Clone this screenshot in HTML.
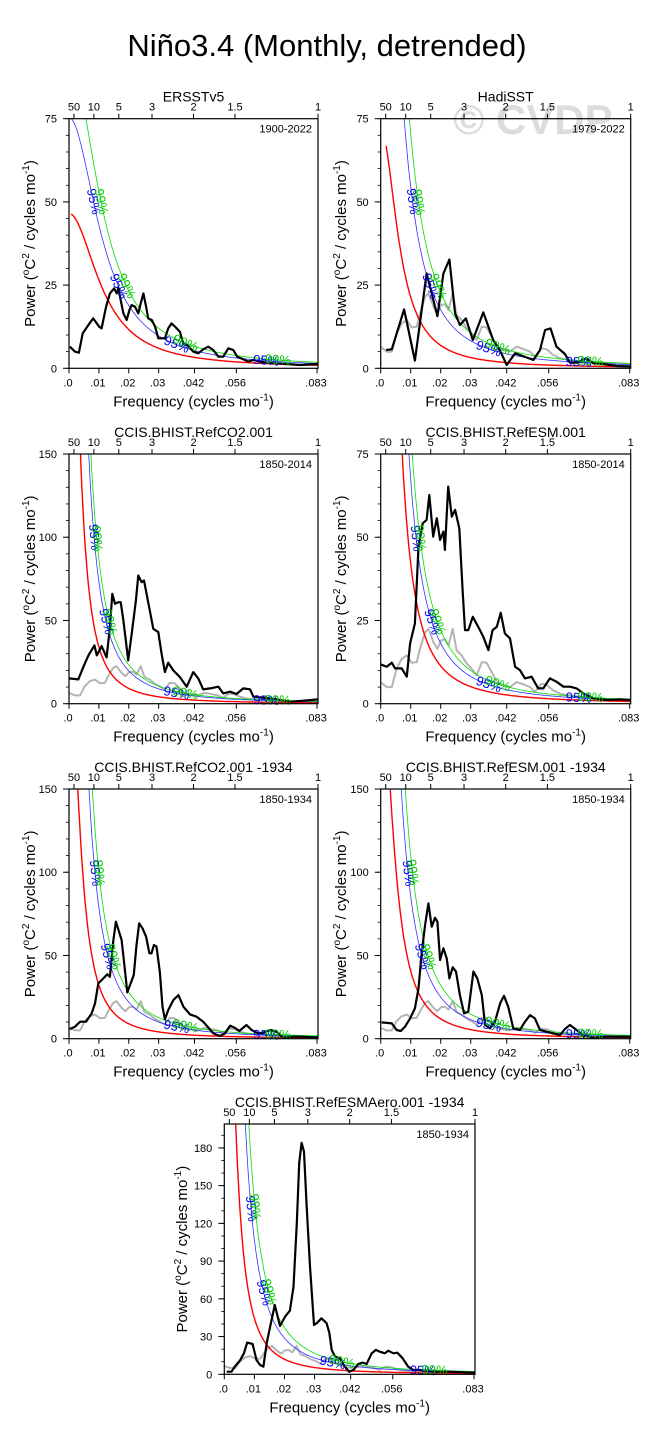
<!DOCTYPE html>
<html><head><meta charset="utf-8">
<style>
html,body{margin:0;padding:0;background:#fff;}
svg{display:block;font-family:"Liberation Sans",sans-serif;}
</style></head>
<body>
<svg id="chart" width="655" height="1444" viewBox="0 0 655 1444" xmlns="http://www.w3.org/2000/svg">
<rect x="0" y="0" width="655" height="1444" fill="#fff"/>
<text x="327" y="56" text-anchor="middle" font-size="31" fill="#000">Niño3.4 (Monthly, detrended)</text>
<text x="533" y="134" text-anchor="middle" font-size="42" font-weight="bold" fill="#dcdcdc">© CVDP</text>
<g id="panels"></g>
</svg>
<script>
// ---------- data ----------
const freqTicks = [0, 0.01, 0.02, 0.03, 0.042, 0.056, 0.083];
const freqTickLabels = [".0", ".01", ".02", ".03", ".042", ".056", ".083"];
const periodTicks = [50, 10, 5, 3, 2, 1.5, 1];
const periodTickLabels = ["50", "10", "5", "3", "2", "1.5", "1"];

const obsFreq = [0,.002,.0037,.0053,.007,.0087,.0103,.012,.0131,.0148,.0159,.0176,.0189,.0201,.0214,.0226,.024,.0253,.027,.0287,.0303,.032,.0337,.0353,.037,.0387,.0409,.0431,.0453,.047,.0498,.0514,.0536,.0553,.0575,.0598,.0631,.0675,.072,.0775,.0833];
const obsPower = [6.5,5,5,10.5,13.5,14.5,12.3,12.5,16.5,21.5,22.5,18.5,16.5,19,19.3,17.5,22.5,16,14.5,12,10.5,8.5,12.5,12.3,9.5,6.5,5.5,5,6.5,6,5,3.5,6,5.7,4,3,2.5,2,1.5,1.3,1];

const p1Freq = [.0003,.002,.0033,.0046,.0061,.0081,.0093,.0101,.0109,.0117,.0124,.0137,.0151,.0160,.0165,.0182,.0193,.0202,.021,.0221,.0232,.024,.0249,.0258,.0265,.0277,.0288,.0299,.0307,.0321,.0332,.0343,.0355,.0371,.0382,.0399,.0416,.0433,.0449,.0466,.0483,.05,.0516,.0533,.055,.0563,.0583,.06,.0617,.0639,.0661,.0695,.0728,.0773,.0833];
const p1Power = [6.5,5,4.7,10.5,12.5,15,13.5,12.5,12,15.5,18.5,22.5,24,22.5,24,16.5,14.5,17.5,19,18.5,16.5,19.5,22.5,18.5,15,14.5,12.5,9,9,9,12,13.5,12.5,11,7.5,6.7,5,4.5,5.7,6.5,5.5,3.5,3.5,6,5.5,3.5,2.7,2,2.5,2,1.7,1.5,1.3,1,1.3];

const p2Freq = [.0018,.0037,.0078,.0114,.0153,.017,.0189,.0209,.0229,.0248,.0264,.0284,.0307,.0342,.0375,.0398,.042,.0448,.0464,.0509,.0531,.0548,.0566,.0586,.0614,.0631,.0659,.0684,.0709,.0742,.0786,.0833];
const p2Power = [5.5,5.7,17.7,2.3,28.5,22.5,15.7,28.5,32.7,16.5,13,15,8.5,16.8,8.5,5.3,1,4.5,4,2.5,5.5,11.5,12,6.5,4.3,1.7,1.7,3,1.5,1.3,0.7,0.5];

const p3Freq = [0,.0031,.0048,.0065,.0085,.0093,.0109,.0126,.0137,.0145,.0154,.0165,.0173,.0182,.0198,.021,.0224,.0232,.0243,.0251,.0265,.0282,.0299,.031,.0321,.0332,.0349,.0371,.0394,.0416,.0433,.0449,.0472,.05,.0516,.0539,.0561,.0583,.0606,.0617,.065,.0695,.0739,.0784,.0833];
const p3Power = [15.2,14.6,22,29,35,29,34.6,27.8,46,66,60,61,61,50,26,42,62,77,73,74,61,45,43,30,19,24.6,20,16,10.2,19,15,8.6,9.2,10.2,6.2,7.2,5.8,9.2,8.6,4.2,3.6,2.6,1.2,1.8,2.6];

const p4Freq = [0,.002,.0037,.0048,.007,.0087,.0098,.0114,.0126,.014,.0153,.0162,.0175,.0187,.0198,.0209,.0214,.0225,.0237,.0248,.0262,.0273,.0281,.0292,.0307,.0325,.0342,.0359,.0373,.0387,.04,.0414,.0431,.0448,.0464,.0481,.0503,.0525,.0542,.0564,.0586,.0609,.0631,.0653,.0675,.0709,.0753,.0798,.0833];
const p4Power = [11.8,11.1,12.3,10.6,10.6,8.1,18.1,24.1,47.2,54.2,55.2,62.7,50.2,55.7,49.2,51.7,46.2,65.2,56.2,58.2,52.7,34.1,22.1,22.1,26.1,23.1,20.1,16.1,22.1,23.1,27.3,21.1,19.6,11.1,10.1,7.6,8.1,4.6,4.6,7.6,6.6,5.1,5.1,4.6,3.1,1.6,1.1,1.3,1.1];

const p5Freq = [.0003,.002,.0037,.0057,.0076,.0087,.0098,.0115,.0128,.0137,.0148,.0157,.0176,.0184,.0195,.0204,.0217,.0226,.0235,.0246,.0258,.0269,.0276,.0284,.0293,.0304,.0313,.0321,.0332,.0349,.0366,.0383,.0405,.0427,.0449,.0483,.0505,.0522,.0539,.0555,.057,.0594,.0611,.0634,.065,.0673,.0695,.0717,.0751,.0784,.0833];
const p5Power = [5.8,7.2,10.2,10.2,15.2,21.2,33.2,36.2,38.7,37.2,58.3,70.3,59.3,46.3,27.8,32.2,38.3,56.3,69.3,66.3,61.3,51.3,51.3,56.3,55.3,40.3,19.2,11.6,17.2,23.2,26.2,19.2,14.6,13.2,10.2,3.2,1.6,3.2,7.8,6.6,4.6,8.2,5.2,3.2,3.6,5.2,4.2,0.6,1.2,1.2,0.6];

const p6Freq = [.0003,.0037,.0053,.0067,.0081,.0098,.0114,.0126,.0137,.0148,.0159,.017,.0181,.0189,.0198,.0209,.022,.0229,.024,.0251,.0264,.0278,.0292,.0309,.0322,.0337,.0348,.0364,.0381,.0398,.0411,.0425,.0442,.0464,.0481,.0498,.0514,.0531,.0553,.0575,.0598,.0614,.0631,.0653,.0675,.0709,.0753,.0798,.0833];
const p6Power = [9.8,9.2,5.2,4.6,7.2,12.2,18.2,30.2,52.3,68.3,81.3,67.3,72.7,70.3,47.3,54.3,48.3,36.2,42.9,40.3,26.2,15.2,16.2,40.3,36.2,26.2,8.2,6.2,10.2,21.2,25.8,19.2,6.2,5.2,10.2,14.2,12.2,5.2,4.2,3.2,2.2,5.8,8.2,5.2,1.8,0.6,1.2,1.2,1.2];

const p7Freq = [.0008,.0024,.0035,.0052,.0065,.0076,.0094,.0107,.0119,.013,.0141,.0152,.0168,.0185,.0202,.0218,.023,.0241,.0249,.0257,.0265,.0274,.0285,.0298,.0307,.0323,.034,.0349,.0357,.0368,.0384,.0401,.0415,.0429,.0445,.046,.0473,.049,.0504,.0517,.0534,.0545,.0562,.0575,.0593,.0611,.0628,.065,.0672,.0706,.075,.0833];
const p7Power = [2.1,2.1,6.1,10.9,16.7,25.2,24.1,11.4,7.4,6.1,24.7,37.4,55.1,38.4,45.9,50.6,69.7,120,168,184,177,133,85.6,39.2,40.6,44.5,40.6,33.1,19.4,14.1,12.7,6.1,2.1,3.4,8.2,9.3,8.2,16.7,19.4,18,16.7,18.8,16.7,17.2,12.7,6.1,3.4,3.4,2.7,2.1,2.1,1.3];

const panelTitles = ["ERSSTv5","HadiSST","CCIS.BHIST.RefCO2.001","CCIS.BHIST.RefESM.001","CCIS.BHIST.RefCO2.001 -1934","CCIS.BHIST.RefESM.001 -1934","CCIS.BHIST.RefESMAero.001 -1934"];
const panelYears = ["1900-2022","1979-2022","1850-2014","1850-2014","1850-1934","1850-1934","1850-1934"];
const redR = [0.93, 0.96, 0.98, 0.98, 0.975, 0.97, 0.98];
const red0 = [46.5, 72, 364, 449, 230, 214, 475];
const sig95 = [1.62, 2.55, 2.15, 1.6, 2.45, 2.1, 2.4];
const sig99 = [2.0, 3.3, 2.55, 1.95, 3.1, 2.7, 3.1];
const redStart = [0.0007, 0.0018, 0.0005, 0.0005, 0.0005, 0.0005, 0.0005];
const yMax = [75, 75, 150, 75, 150, 150, 199];
const yMajor = [[0,25,50,75],[0,25,50,75],[0,50,100,150],[0,25,50,75],[0,50,100,150],[0,50,100,150],[0,30,60,90,120,150,180]];
const yMinorStep = [5,5,10,5,10,10,10];
const blackFreq = [p1Freq,p2Freq,p3Freq,p4Freq,p5Freq,p6Freq,p7Freq];
const blackPower = [p1Power,p2Power,p3Power,p4Power,p5Power,p6Power,p7Power];
const hasObs = [false,true,true,true,true,true,true];

// ---------- layout ----------
const layout = [
  {x0:69, x1:318, y0:118.7, y1:368.3, tx:30},
  {x0:380.7, x1:630.7, y0:118.7, y1:368.3, tx:341},
  {x0:69, x1:318, y0:454, y1:703.7, tx:30},
  {x0:380.7, x1:630.7, y0:454, y1:703.7, tx:341},
  {x0:69, x1:318, y0:789, y1:1038.7, tx:30},
  {x0:380.7, x1:630.7, y0:789, y1:1038.7, tx:341},
  {x0:224.3, x1:475, y0:1124, y1:1374.3, tx:182}
];
const FMAX = 1/12;
const NS = "http://www.w3.org/2000/svg";
const root = document.getElementById('panels');

function mk(tag, attrs, parent){
  const el = document.createElementNS(NS, tag);
  for (const k in attrs) el.setAttribute(k, attrs[k]);
  parent.appendChild(el);
  return el;
}

for (let i = 0; i < 7; i++) {
  const L = layout[i];
  const ym = yMax[i];
  const xs = f => L.x0 + f / FMAX * (L.x1 - L.x0);
  const ys = v => L.y1 - v / ym * (L.y1 - L.y0);
  const red = f => { const r = redR[i]; return red0[i] * (1 - r) * (1 - r) / (1 + r * r - 2 * r * Math.cos(2 * Math.PI * f)); };

  const g = mk('g', {}, root);
  
  

  const clip = mk('clipPath', {id: 'clip' + i}, g);
  mk('rect', {x: L.x0, y: L.y0, width: L.x1 - L.x0, height: L.y1 - L.y0}, clip);

  const t = mk('text', {x: (L.x0 + L.x1) / 2, y: L.y0 - 17, 'text-anchor': 'middle', 'font-size': 14}, g);
  t.textContent = panelTitles[i];
  
  

  const yr = mk('text', {x: L.x1 - 6, y: L.y0 + 14, 'text-anchor': 'end', 'font-size': 11}, g);
  yr.textContent = panelYears[i];
  
  

  const plot = mk('g', {'clip-path': 'url(#clip' + i + ')'}, g);
  
  

  if (hasObs[i]) {
    const d = obsFreq.map((f, k) => (k ? 'L' : 'M') + xs(f).toFixed(1) + ',' + ys(obsPower[k]).toFixed(1)).join('');
    const gl = mk('path', {d: d, fill: 'none', stroke: '#b4b4b4', 'stroke-width': 2, 'stroke-linejoin': 'round'}, plot);
    
    
  }

  const curves = [[1, '#ff0000', 1.4, 'red-noise-line'], [sig95[i], '#3030ff', 0.8, 'ci95-line'], [sig99[i], '#00dd00', 0.8, 'ci99-line']];
  curves.forEach(c => {
    let d = '';
    const n = 300;
    for (let k = 0; k <= n; k++) {
      const f = redStart[i] + (FMAX - redStart[i]) * k / n;
      let v = red(f) * c[0];
      if (v > ym * 1.5) v = ym * 1.5;
      d += (k ? 'L' : 'M') + xs(f).toFixed(1) + ',' + ys(v).toFixed(1);
    }
    const p = mk('path', {d: d, fill: 'none', stroke: c[1], 'stroke-width': c[2]}, plot);
    
    
  });

  const bf = blackFreq[i], bp = blackPower[i];
  const bd = bf.map((f, k) => (k ? 'L' : 'M') + xs(f).toFixed(1) + ',' + ys(bp[k]).toFixed(1)).join('');
  const bl = mk('path', {d: bd, fill: 'none', stroke: '#000', 'stroke-width': 2.2, 'stroke-linejoin': 'round'}, plot);
  
  

  function findF(k, target) {
    for (let f = redStart[i]; f < FMAX; f += 0.0001) if (red(f) * k <= target) return f;
    return FMAX;
  }
  function label(f, k, txt, col) {
    const x = xs(f), y = ys(red(f) * k);
    const x2 = xs(f + 0.0005), y2 = ys(red(f + 0.0005) * k);
    const ang = Math.atan2(y2 - y, x2 - x) * 180 / Math.PI;
    const tx = mk('text', {x: x, y: y + 4, 'text-anchor': 'middle', 'font-size': 13, fill: col, transform: 'rotate(' + ang.toFixed(1) + ' ' + x.toFixed(1) + ' ' + y.toFixed(1) + ')'}, g);
    tx.textContent = txt;
    
    
  }
  [[sig95[i], '95%', '#0000ee', 0], [sig99[i], '99%', '#00cc00', 0.003]].forEach(s => {
    label(findF(s[0], ym * 0.67), s[0], s[1], s[2]);
    label(findF(s[0], ym * 0.33), s[0], s[1], s[2]);
    label(0.036 + s[3], s[0], s[1], s[2]);
    label(0.066 + s[3] * 1.3, s[0], s[1], s[2]);
  });

  const fr = mk('rect', {x: L.x0, y: L.y0, width: L.x1 - L.x0, height: L.y1 - L.y0, fill: 'none', stroke: '#000', 'stroke-width': 1.2}, g);
  
  

  for (let v = 0; v <= ym + 0.001; v += yMinorStep[i]) {
    const tk = mk('line', {x1: L.x0 - 3, x2: L.x0, y1: ys(v), y2: ys(v), stroke: '#000', 'stroke-width': 0.8}, g);
    
    
  }
  yMajor[i].forEach(v => {
    const tk = mk('line', {x1: L.x0 - 6, x2: L.x0, y1: ys(v), y2: ys(v), stroke: '#000', 'stroke-width': 1}, g);
    
    
    const tl = mk('text', {x: L.x0 - 12, y: ys(v) + 4, 'text-anchor': 'end', 'font-size': 11}, g);
    tl.textContent = String(v);
    
    
  });

  freqTicks.forEach((f, k) => {
    const x = xs(Math.min(f, FMAX));
    const tk = mk('line', {x1: x, x2: x, y1: L.y1, y2: L.y1 + 5, stroke: '#000', 'stroke-width': 1}, g);
    
    
    const tl = mk('text', {x: x - 1, y: L.y1 + 18, 'text-anchor': 'middle', 'font-size': 11}, g);
    tl.textContent = freqTickLabels[k];
    
    
  });

  periodTicks.forEach((p, k) => {
    const x = xs(1 / (p * 12));
    const tk = mk('line', {x1: x, x2: x, y1: L.y0 - 5, y2: L.y0, stroke: '#000', 'stroke-width': 1}, g);
    
    
    const tl = mk('text', {x: x, y: L.y0 - 8, 'text-anchor': 'middle', 'font-size': 11}, g);
    tl.textContent = periodTickLabels[k];
    
    
  });

  const xt = mk('text', {x: (L.x0 + L.x1) / 2, y: L.y1 + 38, 'text-anchor': 'middle', 'font-size': 15}, g);
  xt.innerHTML = 'Frequency (cycles mo<tspan dy="-6" font-size="10">-1</tspan><tspan dy="6">)</tspan>';
  
  

  const cy = (L.y0 + L.y1) / 2;
  const yt = mk('text', {x: L.tx, y: cy, 'text-anchor': 'middle', 'font-size': 15, transform: 'rotate(-90 ' + L.tx + ' ' + cy + ') translate(0 5)'}, g);
  yt.innerHTML = 'Power (<tspan dy="-6" font-size="10">o</tspan><tspan dy="6">C</tspan><tspan dy="-6" font-size="10">2</tspan><tspan dy="6"> / cycles mo</tspan><tspan dy="-6" font-size="10">-1</tspan><tspan dy="6">)</tspan>';
  
  
}
</script>
</body></html>
